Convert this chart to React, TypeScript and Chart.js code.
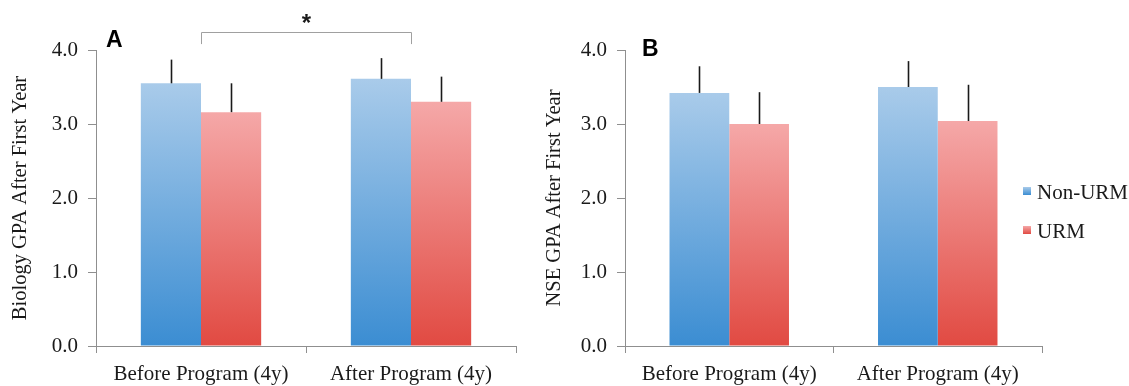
import React, { useEffect, useRef } from "react";
import { Chart, registerables } from "chart.js";

Chart.register(...registerables);

// ---------- data ----------
const categories = ["Before Program (4y)", "After Program (4y)"];
const seriesNames = ["Non-URM", "URM"];
const yTickValues = [0, 1, 2, 3, 4];

const biologyNonUrm = [3.55, 3.61];
const biologyNonUrmErr = [0.32, 0.28];
const biologyUrm = [3.16, 3.3];
const biologyUrmErr = [0.39, 0.34];

const nseNonUrm = [3.42, 3.5];
const nseNonUrmErr = [0.36, 0.35];
const nseUrm = [3.0, 3.04];
const nseUrmErr = [0.43, 0.49];

const biologyTitle = "Biology GPA After First Year";
const nseTitle = "NSE GPA After First Year";
const significanceMark = "*";
const bracketFrom = 0;
const bracketTo = 1;
const bracketLegValue = 4.08;
const bracketTopValue = 4.24;

// ---------- styles ----------
const palette = [
  { top: "#a9cbea", bottom: "#3b8dd2" },
  { top: "#f5a8a8", bottom: "#e14a42" },
];
const SERIF = "'Liberation Serif', 'Times New Roman', serif";
const SANS = "'Liberation Sans', Arial, sans-serif";
const TEXT = "#1a1a1a";
const AXIS = "#8f8f8f";

function gradientFill(idx: number) {
  return (ctx: any) => {
    const c = palette[idx];
    const chart = ctx.chart;
    if (!chart.chartArea || ctx.type !== "data") return c.bottom;
    const ys = chart.scales.y;
    const v = ctx.raw as number;
    const top = ys.getPixelForValue(v);
    const base = ys.getPixelForValue(0);
    if (!isFinite(top) || !isFinite(base) || top === base) return c.bottom;
    const g = chart.ctx.createLinearGradient(0, top, 0, base);
    g.addColorStop(0, c.top);
    g.addColorStop(1, c.bottom);
    return g;
  };
}

const errorBarPlugin = {
  id: "errorBars",
  afterDatasetsDraw(chart: any) {
    const ys = chart.scales.y;
    const c = chart.ctx;
    chart.data.datasets.forEach((ds: any, i: number) => {
      const meta = chart.getDatasetMeta(i);
      meta.data.forEach((el: any, j: number) => {
        const v = ds.data[j];
        const e = ds.errors[j];
        const y1 = ys.getPixelForValue(v);
        const y2 = ys.getPixelForValue(v + e);
        c.save();
        c.strokeStyle = "#1a1a1a";
        c.lineWidth = 1.6;
        c.beginPath();
        c.moveTo(Math.round(el.x) + 0.5, y1);
        c.lineTo(Math.round(el.x) + 0.5, y2);
        c.stroke();
        c.restore();
      });
    });
  },
};

const bracketPlugin = {
  id: "sigBracket",
  afterDraw(chart: any, _args: any, opts: any) {
    if (!opts || !opts.show) return;
    const xs = chart.scales.x;
    const ys = chart.scales.y;
    const c = chart.ctx;
    const x1 = Math.round(xs.getPixelForValue(opts.from)) + 0.5;
    const x2 = Math.round(xs.getPixelForValue(opts.to)) + 0.5;
    const yTop = Math.round(ys.getPixelForValue(opts.top)) + 0.5;
    const yLeg = ys.getPixelForValue(opts.leg);
    c.save();
    c.strokeStyle = "#a0a0a0";
    c.lineWidth = 1;
    c.beginPath();
    c.moveTo(x1, yLeg);
    c.lineTo(x1, yTop);
    c.lineTo(x2, yTop);
    c.lineTo(x2, yLeg);
    c.stroke();
    c.fillStyle = TEXT;
    c.font = `bold 24px ${SANS}`;
    c.textAlign = "center";
    c.textBaseline = "alphabetic";
    c.fillText(opts.mark, (x1 + x2) / 2, yTop - 2);
    c.restore();
  },
};

const panelLetterPlugin = {
  id: "panelLetter",
  afterDraw(chart: any, _args: any, opts: any) {
    if (!opts || !opts.text) return;
    const c = chart.ctx;
    c.save();
    c.fillStyle = "#000";
    c.font = `bold 23px ${SANS}`;
    c.textAlign = "left";
    c.textBaseline = "alphabetic";
    c.fillText(opts.text, chart.chartArea.left + opts.dx, opts.baseline);
    c.restore();
  },
};

const sideLegendPlugin = {
  id: "sideLegend",
  afterDraw(chart: any, _args: any, opts: any) {
    if (!opts || !opts.show) return;
    const c = chart.ctx;
    c.save();
    chart.data.datasets.forEach((ds: any, i: number) => {
      const base = opts.baselines[i];
      const p = palette[i];
      const g = c.createLinearGradient(0, base - 12, 0, base - 4);
      g.addColorStop(0, p.top);
      g.addColorStop(1, p.bottom);
      c.fillStyle = g;
      c.fillRect(opts.x, base - 12, 8, 8);
      c.fillStyle = TEXT;
      c.font = `21px ${SERIF}`;
      c.textAlign = "left";
      c.textBaseline = "alphabetic";
      c.fillText(ds.label, opts.x + 14, base);
    });
    c.restore();
  },
};

type PanelProps = {
  left: number;
  width: number;
  rightPad: number;
  title: string;
  titlePad: number;
  nonUrm: number[];
  nonUrmErr: number[];
  urm: number[];
  urmErr: number[];
  letter: string;
  letterDx: number;
  letterBaseline: number;
  bracket: boolean;
  legend: boolean;
  legendX: number;
};

function Panel(p: PanelProps) {
  const ref = useRef<HTMLCanvasElement | null>(null);
  useEffect(() => {
    if (!ref.current) return;
    const chart = new Chart(ref.current, {
      type: "bar",
      data: {
        labels: categories,
        datasets: [
          {
            label: seriesNames[0],
            data: p.nonUrm,
            errors: p.nonUrmErr,
            backgroundColor: gradientFill(0),
            borderWidth: 0,
            categoryPercentage: 0.573,
            barPercentage: 1,
          } as any,
          {
            label: seriesNames[1],
            data: p.urm,
            errors: p.urmErr,
            backgroundColor: gradientFill(1),
            borderWidth: 0,
            categoryPercentage: 0.573,
            barPercentage: 1,
          } as any,
        ],
      },
      options: {
        responsive: false,
        animation: false,
        layout: { padding: { top: 50, right: p.rightPad, left: 0, bottom: 0 } },
        scales: {
          x: {
            offset: true,
            grid: {
              offset: true,
              drawOnChartArea: false,
              drawTicks: true,
              tickLength: 7,
              color: AXIS,
            },
            border: { display: true, color: AXIS, width: 1 },
            ticks: {
              autoSkip: false,
              maxRotation: 0,
              padding: 9,
              color: TEXT,
              font: { family: SERIF, size: 21 },
            },
            afterFit: (s: any) => {
              s.height = 40;
            },
          },
          y: {
            min: 0,
            max: 4,
            afterBuildTicks: (axis: any) => {
              axis.ticks = yTickValues.map((v) => ({ value: v }));
            },
            grid: {
              drawOnChartArea: false,
              drawTicks: true,
              tickLength: 8,
              color: AXIS,
            },
            border: { display: true, color: AXIS, width: 1 },
            ticks: {
              padding: 10,
              color: TEXT,
              font: { family: SERIF, size: 21 },
              callback: (v: any) => Number(v).toFixed(1),
            },
            title: {
              display: true,
              text: p.title,
              color: TEXT,
              font: { family: SERIF, size: 20.5 },
              padding: { top: p.titlePad, bottom: 0 },
            },
            afterFit: (s: any) => {
              s.width = 96;
            },
          },
        },
        plugins: {
          legend: { display: false },
          tooltip: { enabled: false },
          sigBracket: {
            show: p.bracket,
            from: bracketFrom,
            to: bracketTo,
            top: bracketTopValue,
            leg: bracketLegValue,
            mark: significanceMark,
          },
          panelLetter: { text: p.letter, dx: p.letterDx, baseline: p.letterBaseline },
          sideLegend: { show: p.legend, x: p.legendX, baselines: [199, 238] },
        } as any,
      },
      plugins: [errorBarPlugin, bracketPlugin, panelLetterPlugin, sideLegendPlugin],
    });
    return () => chart.destroy();
  }, []);
  return (
    <canvas
      ref={ref}
      width={p.width}
      height={386}
      style={{ position: "absolute", left: p.left, top: 0, width: p.width, height: 386 }}
    />
  );
}

export default function App() {
  return (
    <div
      style={{
        position: "fixed",
        left: 0,
        top: 0,
        width: 1129,
        height: 386,
        background: "#fff",
        overflow: "hidden",
      }}
    >
      <Panel
        left={0}
        width={529}
        rightPad={13}
        title={biologyTitle}
        titlePad={8}
        nonUrm={biologyNonUrm}
        nonUrmErr={biologyNonUrmErr}
        urm={biologyUrm}
        urmErr={biologyUrmErr}
        letter="A"
        letterDx={10}
        letterBaseline={47}
        bracket={true}
        legend={false}
        legendX={0}
      />
      <Panel
        left={529}
        width={600}
        rightPad={87}
        title={nseTitle}
        titlePad={13}
        nonUrm={nseNonUrm}
        nonUrmErr={nseNonUrmErr}
        urm={nseUrm}
        urmErr={nseUrmErr}
        letter="B"
        letterDx={17}
        letterBaseline={56}
        bracket={false}
        legend={true}
        legendX={494}
      />
    </div>
  );
}
